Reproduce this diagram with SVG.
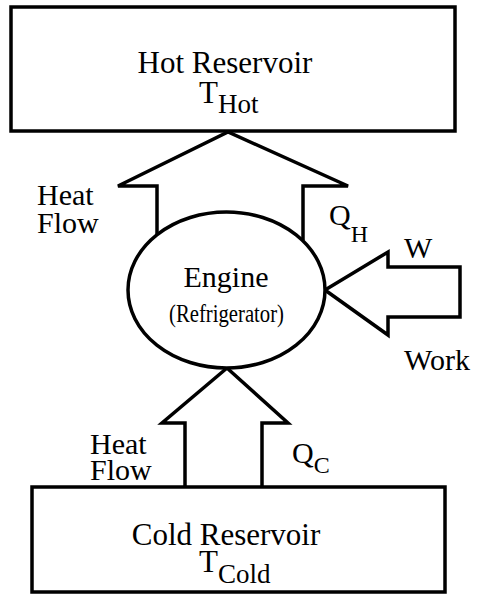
<svg xmlns="http://www.w3.org/2000/svg" width="477" height="594" viewBox="0 0 477 594">
<style>
.box{fill:#fff;stroke:#000;stroke-width:3.5}
.arr{fill:#fff;stroke:#000;stroke-width:3.5;stroke-linejoin:miter}
text{font-family:"Liberation Serif","Times New Roman",serif;fill:#000}
.lbl{font-size:30px}
.big{font-size:31px}
.mid{text-anchor:middle}
</style>
<rect width="477" height="594" fill="#fff"/>
<g id="connectors">
<polyline class="arr" points="157,236 157,186 118,186 228,132 348,186 303,186 303,240"/>
<polyline class="arr" points="185,487 185,423 162,423 227,368 288,423 262,423 262,487"/>
<polygon class="arr" points="325,290 388,252 388,267 460,267 460,317 388,317 388,335"/>
</g>
<g id="hot">
<rect class="box" x="11" y="7" width="444" height="124"/>
<text class="big"><tspan class="mid" x="225" y="73">Hot Reservoir</tspan><tspan x="199" y="103">T</tspan><tspan font-size="27" dy="10">Hot</tspan></text>
</g>
<g id="engine">
<ellipse class="box" cx="226.5" cy="290" rx="98.5" ry="78"/>
<text font-size="26"><tspan class="mid" x="226" y="287" font-size="30">Engine</tspan><tspan x="169" y="322" textLength="115" lengthAdjust="spacingAndGlyphs">(Refrigerator)</tspan></text>
</g>
<g id="cold">
<rect class="box" x="32" y="487" width="413" height="105"/>
<text class="big"><tspan class="mid" x="226" y="545">Cold Reservoir</tspan><tspan x="199" y="572">T</tspan><tspan font-size="27" dy="11">Cold</tspan></text>
</g>
<g id="labels">
<text class="lbl"><tspan x="37" y="205">Heat</tspan><tspan x="37" y="233">Flow</tspan></text>
<text class="lbl" x="329" y="225">Q<tspan font-size="24" dy="17">H</tspan></text>
<text class="lbl" x="404" y="258">W</text>
<text class="lbl" x="404" y="370">Work</text>
<text class="lbl"><tspan x="90" y="454">Heat</tspan><tspan x="90" y="480">Flow</tspan></text>
<text class="lbl" x="292" y="463">Q<tspan font-size="24" dy="10">C</tspan></text>
</g>
</svg>
